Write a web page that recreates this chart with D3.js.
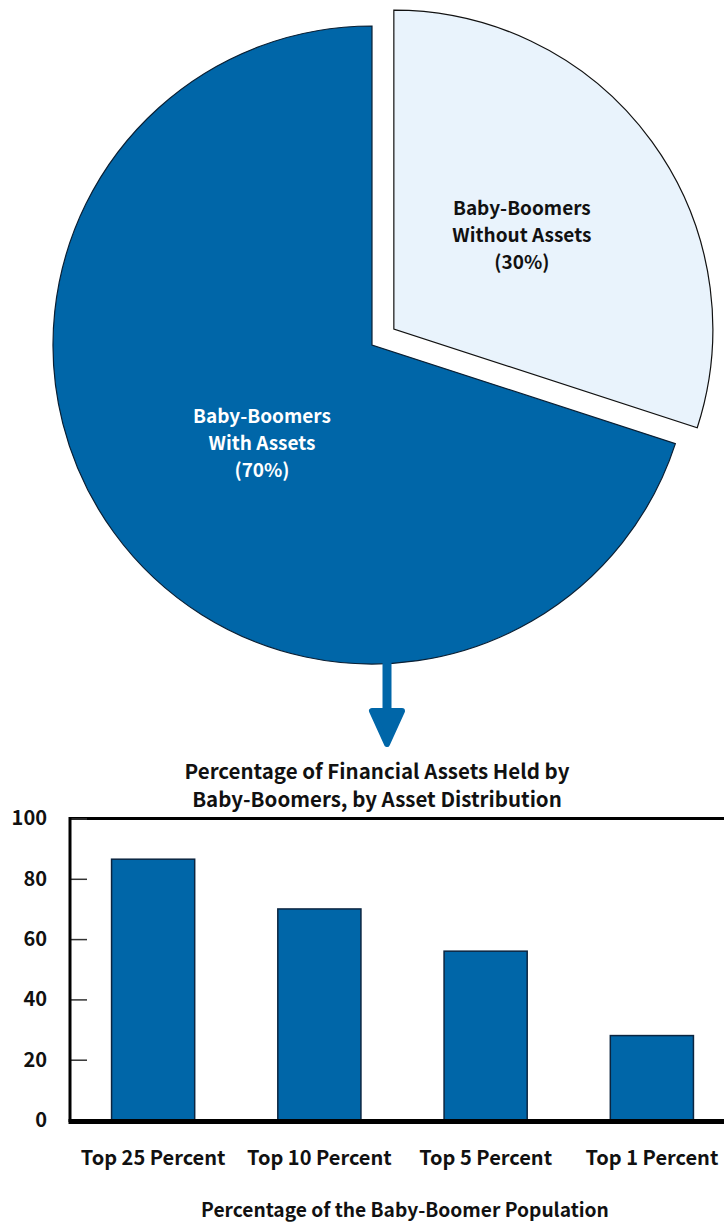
<!DOCTYPE html>
<html>
<head>
<meta charset="utf-8">
<script src="https://cdn.jsdelivr.net/npm/d3@7"></script>
<style>
  html, body { margin: 0; padding: 0; background: #fff; }
  svg { display: block; }
  text { font-family: "Noto Sans CJK KR", "DejaVu Sans", sans-serif; font-weight: 700; fill: #111; }
</style>
</head>
<body>
<script>
// Pie: share of baby-boomers with / without financial assets
const pieLabels = [["Baby-Boomers", "Without Assets", "(30%)"], ["Baby-Boomers", "With Assets", "(70%)"]];
const pieValues = [30, 70];

// Bars: share of financial assets held, by asset distribution
const categories = ["Top 25 Percent", "Top 10 Percent", "Top 5 Percent", "Top 1 Percent"];
const shares = [86.5, 70, 56, 28];
const yTicks = [0, 20, 40, 60, 80, 100];

const titleLines = ["Percentage of Financial Assets Held by", "Baby-Boomers, by Asset Distribution"];
const xTitle = "Percentage of the Baby-Boomer Population";

const W = 724, H = 1222;
const DARK = "#0066a8", LIGHT = "#e9f3fc";

const svg = d3.select("body").append("svg").attr("width", W).attr("height", H);

// ---- pie ----
const cx = 372, cy = 345, R = 319, explode = 27;
const pie = d3.pie().sort(null).startAngle(0).endAngle(2 * Math.PI);
const arcs = pie(pieValues);
const arc = d3.arc().innerRadius(0).outerRadius(R);
const pg = svg.append("g").attr("transform", `translate(${cx},${cy})`);

arcs.forEach((a, i) => {
  const mid = (a.startAngle + a.endAngle) / 2;
  const off = i === 0 ? explode : 0;
  const dx = Math.sin(mid) * off, dy = -Math.cos(mid) * off;
  const g = pg.append("g").attr("transform", `translate(${dx},${dy})`);
  g.append("path").attr("d", arc(a))
    .attr("fill", i === 0 ? LIGHT : DARK)
    .attr("stroke", i === 0 ? "#111" : "#0a1f33")
    .attr("stroke-width", 1.2);
  const c = i === 0 ? [128, -114] : [-110, 78];
  g.append("text")
    .attr("text-anchor", "middle")
    .style("font-size", "19px")
    .style("fill", i === 0 ? "#111" : "#fff")
    .selectAll("tspan").data(pieLabels[i]).join("tspan")
    .attr("x", c[0]).attr("y", (d, k) => c[1] + k * 27)
    .text(d => d);
});

// ---- arrow from pie to bar chart ----
const ax = 387;
svg.append("line").attr("x1", ax).attr("x2", ax).attr("y1", cy + R - 2).attr("y2", 712)
  .attr("stroke", DARK).attr("stroke-width", 9);
svg.append("path")
  .attr("d", `M${ax - 15},${711} L${ax + 15},${711} L${ax},${744} Z`)
  .attr("fill", DARK).attr("stroke", DARK).attr("stroke-width", 6).attr("stroke-linejoin", "round");

// ---- bar chart ----
const plotLeft = 70, plotTop = 818.5, plotBottom = 1120, plotRight = 735;
const y = d3.scaleLinear().domain([0, 100]).range([plotBottom, plotTop]);
const x = d3.scaleBand().domain(categories).range([plotLeft, plotRight]).paddingInner(0.5).paddingOuter(0.25);

svg.append("g").attr("text-anchor", "middle").style("font-size", "20.5px")
  .selectAll("text").data(titleLines).join("text")
  .attr("x", 377).attr("y", (d, i) => 779 + i * 28).text(d => d);

// frame
svg.append("line").attr("x1", plotLeft).attr("x2", W + 20).attr("y1", plotTop).attr("y2", plotTop)
  .attr("stroke", "#000").attr("stroke-width", 3);

// bars
svg.append("g").selectAll("rect").data(shares).join("rect")
  .attr("x", (d, i) => x(categories[i]))
  .attr("y", d => y(d))
  .attr("width", x.bandwidth())
  .attr("height", d => y(0) - y(d))
  .attr("fill", DARK).attr("stroke", "#0b2540").attr("stroke-width", 1.5);

// y axis with inward ticks
const yAxis = d3.axisLeft(y).tickValues(yTicks).tickSize(-17).tickPadding(23).tickSizeOuter(0);
const yg = svg.append("g").attr("transform", `translate(${plotLeft},0)`).call(yAxis);
yg.select(".domain").remove();
yg.attr("font-family", null).attr("font-size", null);
yg.selectAll(".tick line").attr("stroke", "#333").attr("stroke-width", 1.5);
yg.selectAll(".tick text").style("font-size", "20px").attr("fill", "#111");

svg.append("line").attr("x1", plotLeft).attr("x2", plotLeft).attr("y1", plotTop - 1.5).attr("y2", plotBottom + 2)
  .attr("stroke", "#000").attr("stroke-width", 3);
svg.append("line").attr("x1", plotLeft - 1.5).attr("x2", W + 20).attr("y1", plotBottom + 1.5).attr("y2", plotBottom + 1.5)
  .attr("stroke", "#000").attr("stroke-width", 5);

// x axis labels
const xAxis = d3.axisBottom(x).tickSize(0).tickPadding(31);
const xg = svg.append("g").attr("transform", `translate(0,${plotBottom})`).call(xAxis);
xg.select(".domain").remove();
xg.attr("font-family", null).attr("font-size", null);
xg.selectAll(".tick text").style("font-size", "20px").attr("fill", "#111");

svg.append("text").attr("x", 405).attr("y", 1217).attr("text-anchor", "middle")
  .style("font-size", "19.2px").text(xTitle);
</script>
</body>
</html>
